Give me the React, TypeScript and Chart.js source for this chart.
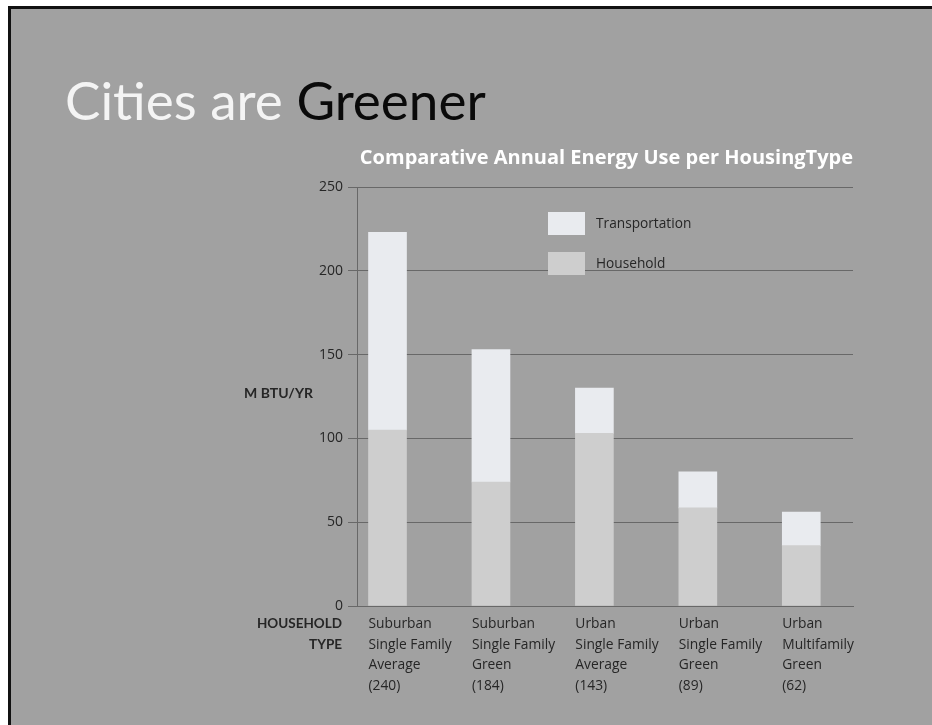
import React, { useEffect, useRef } from "react";
import { Chart, registerables } from "chart.js";

Chart.register(...registerables);

// ---- Data ----
const categoryLines: string[][] = [
  ["Suburban", "Single Family", "Average", "(240)"],
  ["Suburban", "Single Family", "Green", "(184)"],
  ["Urban", "Single Family", "Average", "(143)"],
  ["Urban", "Single Family", "Green", "(89)"],
  ["Urban", "Multifamily", "Green", "(62)"],
];
const household = [105, 74, 103, 58.5, 36];
const transportation = [118, 79, 27, 21.5, 20];
const seriesLabels = ["Household", "Transportation"];
const yMin = 0;
const yMax = 250;
const yStep = 50;
const chartTitle = "Comparative Annual Energy Use per HousingType";
const yAxisTitle = "M BTU/YR";
const xAxisTitle = ["HOUSEHOLD", "TYPE"];

const FONT = "Lato, 'Open Sans', sans-serif";
const FONT2 = "'Open Sans', Lato, sans-serif";
const HOUSEHOLD_COLOR = "#cecece";
const TRANSPORT_COLOR = "#e9ebef";
const GRID_COLOR = "#686868";
const TEXT_COLOR = "#262626";

const legendPlugin = {
  id: "slideLegend",
  afterDraw(chart: any) {
    const ctx = chart.ctx;
    const area = chart.chartArea;
    const items = chart.data.datasets
      .map((d: any) => ({ label: d.label, color: d.backgroundColor }))
      .reverse();
    const x0 = area.left + 191;
    const y0 = area.top + 25;
    ctx.save();
    items.forEach((it: any, i: number) => {
      const y = y0 + i * 40;
      ctx.fillStyle = it.color;
      ctx.fillRect(x0, y, 37, 23);
      ctx.fillStyle = TEXT_COLOR;
      ctx.font = `13.7px ${FONT2}`;
      ctx.textAlign = "left";
      ctx.textBaseline = "middle";
      ctx.fillText(it.label, x0 + 48, y + 12);
    });
    ctx.restore();
  },
};

const axisTitlesPlugin = {
  id: "axisTitles",
  afterDraw(chart: any) {
    const ctx = chart.ctx;
    const area = chart.chartArea;
    ctx.save();
    ctx.fillStyle = TEXT_COLOR;
    ctx.font = `bold 14px ${FONT}`;
    ctx.textAlign = "right";
    ctx.textBaseline = "middle";
    ctx.fillText(yAxisTitle, area.left - 44, (area.top + area.bottom) / 2 - 3);
    ctx.font = `bold 13.5px ${FONT}`;
    xAxisTitle.forEach((t, i) => {
      ctx.fillText(t, area.left - 15, area.bottom + 18 + i * 21);
    });
    ctx.restore();
  },
};

function ChartCanvas() {
  const ref = useRef<HTMLCanvasElement | null>(null);
  useEffect(() => {
    if (!ref.current) return;
    const chart = new Chart(ref.current, {
      type: "bar",
      data: {
        datasets: [
          {
            label: seriesLabels[0],
            data: household.map((v, i) => ({ x: i, y: v })),
            backgroundColor: HOUSEHOLD_COLOR,
            borderWidth: 0,
            barThickness: 38,
          },
          {
            label: seriesLabels[1],
            data: transportation.map((v, i) => ({ x: i, y: v })),
            backgroundColor: TRANSPORT_COLOR,
            borderWidth: 0,
            barThickness: 38,
          },
        ],
      },
      options: {
        animation: false,
        responsive: false,
        devicePixelRatio: 1,
        layout: { padding: { left: 297, right: 79, top: 146, bottom: 19 } },
        plugins: {
          legend: { display: false },
          tooltip: { enabled: false },
          title: {
            display: true,
            text: chartTitle,
            align: "end",
            color: "#ffffff",
            font: { family: FONT2, size: 20, weight: "bold" },
            padding: { top: 0, bottom: 17 },
          },
        },
        scales: {
          x: {
            type: "linear",
            stacked: true,
            offset: false,
            min: -0.295,
            max: 4.5,
            bounds: "data",
            grid: { display: false, drawTicks: false, offset: false },
            border: { display: true, color: GRID_COLOR, width: 1 },
            afterBuildTicks: (scale: any) => {
              scale.ticks = categoryLines.map((_, i) => ({ value: i - 0.184 }));
            },
            afterFit: (scale: any) => {
              scale.height = 100;
            },
            ticks: {
              autoSkip: false,
              maxRotation: 0,
              minRotation: 0,
              align: "start",
              padding: 8,
              color: TEXT_COLOR,
              font: { family: FONT2, size: 13.8, lineHeight: "20.5px" },
              callback: (_v: any, i: number) => categoryLines[i],
            },
          },
          y: {
            stacked: true,
            min: yMin,
            max: yMax,
            grid: { color: GRID_COLOR, lineWidth: 1, drawTicks: true, tickLength: 9 },
            border: { display: true, color: GRID_COLOR, width: 1 },
            afterFit: (scale: any) => {
              scale.width = 60;
            },
            ticks: {
              stepSize: yStep,
              padding: 5,
              color: TEXT_COLOR,
              font: { family: FONT2, size: 14 },
            },
          },
        },
      },
      plugins: [legendPlugin, axisTitlesPlugin],
    } as any);
    return () => chart.destroy();
  }, []);
  return (
    <canvas
      ref={ref}
      width={932}
      height={725}
      style={{ position: "absolute", left: 0, top: 0, width: 932, height: 725, display: "block" }}
    />
  );
}

export default function App() {
  return (
    <div
      style={{
        position: "fixed",
        left: 0,
        top: 0,
        width: 932,
        height: 725,
        background: "#ffffff",
        overflow: "hidden",
      }}
    >
      <div
        style={{
          position: "absolute",
          left: 8,
          top: 6,
          width: 924,
          height: 719,
          background: "#a1a1a1",
          borderLeft: "3px solid #111",
          borderTop: "3px solid #111",
          boxSizing: "border-box",
        }}
      />
      <div
        style={{
          position: "absolute",
          left: 65,
          top: 68,
          fontFamily: FONT,
          fontSize: 53,
          lineHeight: 1.2,
          whiteSpace: "nowrap",
        }}
      >
        <span style={{ color: "#f4f4f4" }}>Cities are </span>
        <span style={{ color: "#0a0a0a" }}>Greener</span>
      </div>
      <ChartCanvas />
    </div>
  );
}
